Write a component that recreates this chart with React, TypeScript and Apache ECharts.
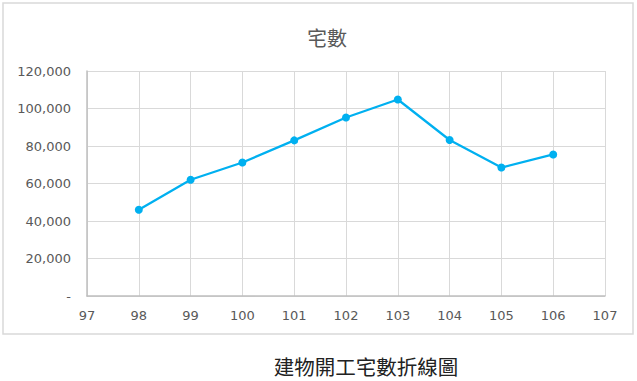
import React, { useEffect, useRef } from "react";
import * as echarts from "echarts";

const years = [98, 99, 100, 101, 102, 103, 104, 105, 106];
const units = [46000, 62000, 71200, 83000, 95200, 104800, 83200, 68500, 75500];
const chartTitle = "宅數";
const caption = "建物開工宅數折線圖";

export default function App() {
  const ref = useRef<HTMLDivElement>(null);
  useEffect(() => {
    document.body.style.margin = "0";
    const chart = echarts.init(ref.current!, null, { renderer: "svg" });
    chart.setOption({
      animation: false,
      backgroundColor: "#ffffff",
      title: {
        text: chartTitle,
        left: 322,
        textAlign: "center",
        top: 22,
        textStyle: { fontFamily: "Noto Sans CJK TC", fontSize: 20, fontWeight: "normal", color: "#595959" },
      },
      graphic: [
        {
          type: "rect",
          shape: { x: 3, y: 3, width: 630, height: 331 },
          style: { fill: "none", stroke: "#d9d9d9", lineWidth: 1.5 },
          silent: true,
        },
        {
          type: "text",
          x: 366,
          y: 366,
          style: {
            text: caption,
            fontFamily: "Noto Sans CJK TC",
            fontSize: 20.5,
            fill: "#222222",
            textAlign: "center",
            textVerticalAlign: "middle",
          },
        },
      ],
      grid: { left: 87, top: 71, right: 32, bottom: 85, containLabel: false },
      xAxis: {
        type: "value",
        min: 97,
        max: 107,
        interval: 1,
        axisLine: { show: true, lineStyle: { color: "#bfbfbf", width: 1.5 } },
        axisTick: { show: false },
        splitLine: { show: true, lineStyle: { color: "#d9d9d9", width: 1 } },
        axisLabel: {
          margin: 13,
          fontFamily: "DejaVu Sans",
          fontSize: 13,
          color: "#595959",
        },
      },
      yAxis: {
        type: "value",
        min: 0,
        max: 120000,
        interval: 20000,
        axisLine: { show: true, lineStyle: { color: "#bfbfbf", width: 1.5 } },
        axisTick: { show: false },
        splitLine: { show: true, lineStyle: { color: "#d9d9d9", width: 1 } },
        axisLabel: {
          margin: 16,
          fontFamily: "DejaVu Sans",
          fontSize: 13,
          color: "#595959",
          formatter: (v: number) => (v === 0 ? "-" : v.toLocaleString("en-US")),
        },
      },
      series: [
        {
          type: "line",
          data: years.map((y, i) => [y, units[i]]),
          symbol: "circle",
          symbolSize: 8,
          itemStyle: { color: "#00b0f0" },
          lineStyle: { color: "#00b0f0", width: 2.25 },
        },
      ],
    });
    return () => chart.dispose();
  }, []);
  return <div ref={ref} style={{ position: "absolute", left: 0, top: 0, width: 637, height: 381 }} />;
}
